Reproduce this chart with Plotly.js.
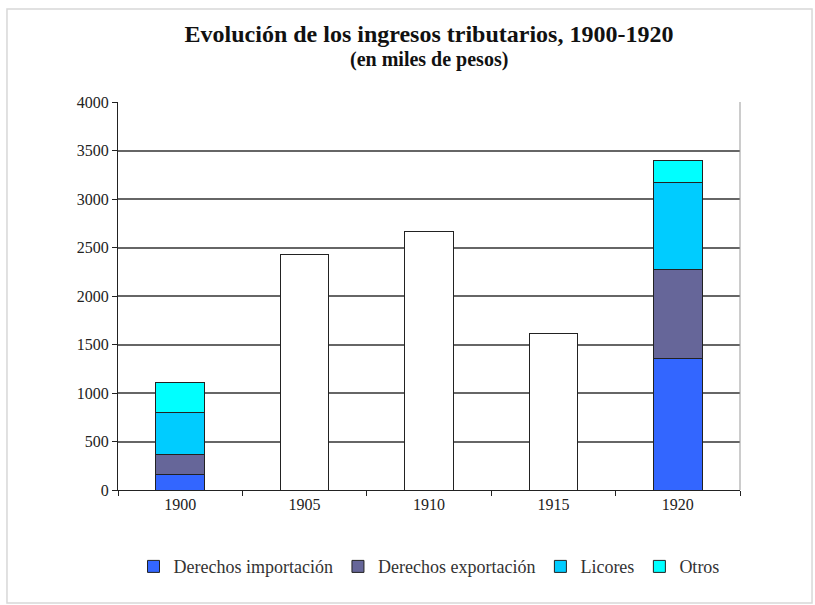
<!DOCTYPE html>
<html>
<head>
<meta charset="utf-8">
<script src="https://cdn.plot.ly/plotly-3.0.1.min.js"></script>
<style>html,body{margin:0;padding:0;background:#fff;}#chart{width:815px;height:605px;}</style>
</head>
<body>
<div id="chart"></div>
<script>
const years = ['1900', '1905', '1910', '1915', '1920'];
const importacion = [162, null, null, null, 1358];
const exportacion = [206, null, null, null, 917];
const licores = [433, null, null, null, 900];
const otros = [309, null, null, null, 220];
const totales = [null, 2426, 2660, 1616, null];
const seriesNames = ['Derechos importación', 'Derechos exportación', 'Licores', 'Otros'];
const seriesColors = ['#3366FF', '#666699', '#00CCFF', '#00FFFF'];
const yTicks = [0, 500, 1000, 1500, 2000, 2500, 3000, 3500, 4000];
const titleText = 'Evolución de los ingresos tributarios, 1900-1920';
const subtitleText = '(en miles de pesos)';

const serif = 'Times New Roman, Liberation Serif, serif';
const line = {color: '#222', width: 1};
const seriesData = [importacion, exportacion, licores, otros];
const traces = seriesData.map((d, i) => ({
  type: 'bar', x: years, y: d, name: seriesNames[i],
  marker: {color: seriesColors[i], line: line}
}));
traces.push({type: 'bar', x: years, y: totales, name: 'Total', showlegend: false,
  marker: {color: '#FFFFFF', line: line}});

const layout = {
  width: 815, height: 605,
  font: {family: serif},
  paper_bgcolor: '#fff', plot_bgcolor: '#fff',
  margin: {l: 118, r: 75, t: 102, b: 115},
  barmode: 'stack', bargap: 0.61,
  title: {
    text: '<b>' + titleText + '</b>',
    font: {family: serif, size: 24, color: '#111'},
    x: 0.5, xanchor: 'center', xref: 'paper', yref: 'container', y: 0.945, yanchor: 'middle'
  },
  annotations: [
    {text: '<b>' + subtitleText + '</b>', xref: 'paper', yref: 'paper', x: 0.5, y: 1.11,
     xanchor: 'center', yanchor: 'middle', showarrow: false,
     font: {family: serif, size: 20, color: '#111'}}
  ],
  xaxis: {
    type: 'category', showline: true, linecolor: '#222', linewidth: 1,
    ticks: 'outside', tickson: 'boundaries', ticklen: 5, tickcolor: '#222',
    tickfont: {family: serif, size: 16, color: '#222'}, showgrid: false
  },
  yaxis: {
    range: [0, 4000], tickvals: yTicks, ticktext: yTicks.map(String),
    showline: true, linecolor: '#222', linewidth: 1,
    ticks: 'outside', ticklen: 5, tickcolor: '#222',
    showgrid: true, gridcolor: '#666', gridwidth: 2, zeroline: false,
    tickfont: {family: serif, size: 16, color: '#222'}
  },
  shapes: [
    {type: 'line', xref: 'paper', yref: 'paper', x0: 1, x1: 1, y0: 0, y1: 1, line: {color: '#999', width: 1}},
    {type: 'rect', xref: 'paper', yref: 'paper', x0: -0.1785, x1: 1.1158, y0: -0.2912, y1: 1.2397,
     line: {color: '#d8d8d8', width: 1.5}, layer: 'below'}
  ],
  legend: {
    orientation: 'h', x: 0.5, xanchor: 'center', y: -0.15, yanchor: 'top',
    font: {family: serif, size: 18, color: '#333'}, traceorder: 'normal',
    itemwidth: 30
  },
  showlegend: true
};
Plotly.newPlot('chart', traces, layout, {displayModeBar: false, staticPlot: true});
</script>
</body>
</html>
